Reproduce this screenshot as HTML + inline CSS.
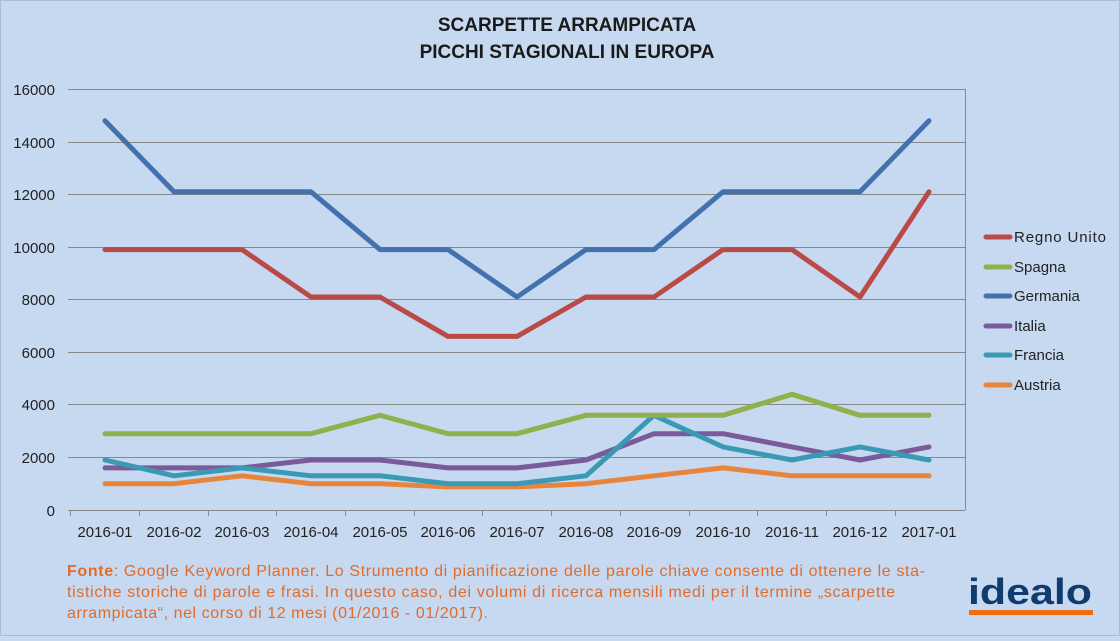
<!DOCTYPE html>
<html><head><meta charset="utf-8"><style>
body{margin:0;width:1120px;height:636px;overflow:hidden;background:#c6d9f0;font-family:"Liberation Sans","DejaVu Sans",sans-serif}
</style></head><body>
<svg width="1120" height="636" xmlns="http://www.w3.org/2000/svg" font-family="Liberation Sans, DejaVu Sans, sans-serif">
<rect x="0" y="0" width="1120" height="636" fill="#c6d9f0"/>
<rect x="0.5" y="0.5" width="1119" height="635" fill="none" stroke="#aabbd4"/>
<text x="567" y="31" text-anchor="middle" font-size="19" font-weight="bold" fill="#1a1a1a">SCARPETTE ARRAMPICATA</text>
<text x="567" y="58" text-anchor="middle" font-size="19" font-weight="bold" fill="#1a1a1a">PICCHI STAGIONALI IN EUROPA</text>
<g stroke="#888" stroke-width="1">
<line x1="68" x2="965" y1="89.5" y2="89.5"/><line x1="68" x2="965" y1="142.5" y2="142.5"/>
<line x1="68" x2="965" y1="194.5" y2="194.5"/><line x1="68" x2="965" y1="247.5" y2="247.5"/>
<line x1="68" x2="965" y1="299.5" y2="299.5"/><line x1="68" x2="965" y1="352.5" y2="352.5"/>
<line x1="68" x2="965" y1="404.5" y2="404.5"/><line x1="68" x2="965" y1="457.5" y2="457.5"/>
<line x1="68" x2="965" y1="510.5" y2="510.5"/>
<line x1="965.5" x2="965.5" y1="89" y2="510"/>
</g>
<g stroke="#888" stroke-width="1">
<line x1="70.5" x2="70.5" y1="510" y2="516"/><line x1="139.5" x2="139.5" y1="510" y2="516"/><line x1="208.5" x2="208.5" y1="510" y2="516"/><line x1="276.5" x2="276.5" y1="510" y2="516"/><line x1="345.5" x2="345.5" y1="510" y2="516"/><line x1="414.5" x2="414.5" y1="510" y2="516"/><line x1="482.5" x2="482.5" y1="510" y2="516"/><line x1="551.5" x2="551.5" y1="510" y2="516"/><line x1="620.5" x2="620.5" y1="510" y2="516"/><line x1="689.5" x2="689.5" y1="510" y2="516"/><line x1="757.5" x2="757.5" y1="510" y2="516"/><line x1="826.5" x2="826.5" y1="510" y2="516"/><line x1="895.5" x2="895.5" y1="510" y2="516"/>
</g>
<g font-size="15" fill="#222" text-anchor="end">
<text x="55" y="95">16000</text><text x="55" y="148">14000</text><text x="55" y="200">12000</text><text x="55" y="253">10000</text><text x="55" y="305">8000</text><text x="55" y="358">6000</text><text x="55" y="410">4000</text><text x="55" y="463">2000</text><text x="55" y="516">0</text>
</g>
<g font-size="15" fill="#222" text-anchor="middle">
<text x="105" y="537">2016-01</text><text x="174" y="537">2016-02</text><text x="242" y="537">2016-03</text><text x="311" y="537">2016-04</text><text x="380" y="537">2016-05</text><text x="448" y="537">2016-06</text><text x="517" y="537">2016-07</text><text x="586" y="537">2016-08</text><text x="654" y="537">2016-09</text><text x="723" y="537">2016-10</text><text x="792" y="537">2016-11</text><text x="860" y="537">2016-12</text><text x="929" y="537">2017-01</text>
</g>
<g fill="none" stroke-width="5" stroke-linejoin="round" stroke-linecap="round">
<polyline stroke="#e8853c" points="105,483.7 174,483.7 242,475.8 311,483.7 380,483.7 448,486.9 517,486.9 586,483.7 654,475.8 723,467.9 792,475.8 860,475.8 929,475.8"/>
<polyline stroke="#7a5a98" points="105,467.9 174,467.9 242,467.9 311,460 380,460 448,467.9 517,467.9 586,460 654,433.7 723,433.7 792,446.9 860,460 929,446.9"/>
<polyline stroke="#3a9ab5" points="105,460 174,475.8 242,467.9 311,475.8 380,475.8 448,483.7 517,483.7 586,475.8 654,415.3 723,446.9 792,460 860,446.9 929,460"/>
<polyline stroke="#8fb04a" points="105,433.7 174,433.7 242,433.7 311,433.7 380,415.3 448,433.7 517,433.7 586,415.3 654,415.3 723,415.3 792,394.3 860,415.3 929,415.3"/>
<polyline stroke="#b94a48" points="105,249.6 174,249.6 242,249.6 311,297 380,297 448,336.4 517,336.4 586,297 654,297 723,249.6 792,249.6 860,297 929,191.8"/>
<polyline stroke="#4272ae" points="105,120.8 174,191.8 242,191.8 311,191.8 380,249.6 448,249.6 517,297 586,249.6 654,249.6 723,191.8 792,191.8 860,191.8 929,120.8"/>
</g>
<g stroke-width="5" stroke-linecap="round">
<line x1="986" x2="1010" y1="237" y2="237" stroke="#b94a48"/>
<line x1="986" x2="1010" y1="267" y2="267" stroke="#8fb04a"/>
<line x1="986" x2="1010" y1="296" y2="296" stroke="#4272ae"/>
<line x1="986" x2="1010" y1="326" y2="326" stroke="#7a5a98"/>
<line x1="986" x2="1010" y1="355" y2="355" stroke="#3a9ab5"/>
<line x1="986" x2="1010" y1="385" y2="385" stroke="#e8853c"/>
</g>
<g font-size="15" fill="#222">
<text x="1014" y="242" textLength="92">Regno Unito</text><text x="1014" y="272">Spagna</text><text x="1014" y="301">Germania</text><text x="1014" y="331">Italia</text><text x="1014" y="360">Francia</text><text x="1014" y="390">Austria</text>
</g>
<g font-size="16" fill="#e26b2a">
<text x="67" y="576" textLength="858"><tspan font-weight="bold">Fonte</tspan>: Google Keyword Planner. Lo Strumento di pianificazione delle parole chiave consente di ottenere le sta-</text>
<text x="67" y="597" textLength="828">tistiche storiche di parole e frasi. In questo caso, dei volumi di ricerca mensili medi per il termine „scarpette</text>
<text x="67" y="618" textLength="421">arrampicata“, nel corso di 12 mesi (01/2016 - 01/2017).</text>
</g>
<text x="968" y="604" font-size="36" font-weight="bold" fill="#0f3b6e" textLength="124" lengthAdjust="spacingAndGlyphs">idealo</text>
<rect x="969" y="610" width="124" height="5" fill="#ef6c10"/>
</svg>
</body></html>
